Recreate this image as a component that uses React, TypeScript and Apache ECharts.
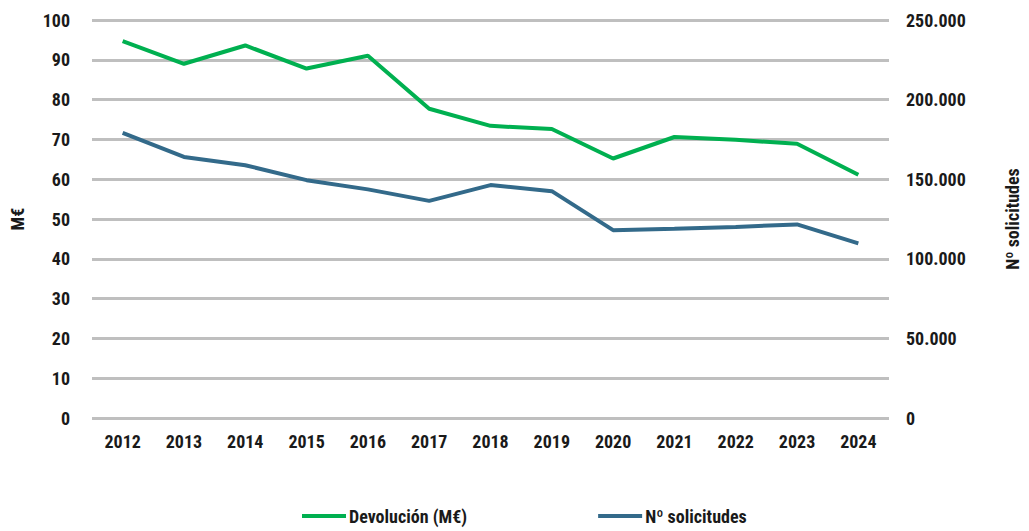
import React, { useEffect, useRef } from "react";
import * as echarts from "echarts";

const years = ["2012","2013","2014","2015","2016","2017","2018","2019","2020","2021","2022","2023","2024"];
const devolucion = [94.7, 89.0, 93.6, 87.8, 91.0, 77.7, 73.4, 72.6, 65.2, 70.6, 69.9, 68.9, 61.1];
const solicitudes = [179100, 164000, 158800, 149400, 143600, 136400, 146300, 142500, 118000, 118800, 120000, 121600, 109700];

const FONT = "'Roboto Condensed', 'Liberation Sans Narrow', 'Arial Narrow', 'DejaVu Sans Condensed', Roboto, sans-serif";
const GREEN = "#00b050";
const BLUE = "#336a8a";
const GRID = "#bfbfbf";

const fmt = (v: number) => {
  if (v === 0) return "0";
  return String(v).replace(/\B(?=(\d{3})+(?!\d))/g, ".");
};

export default function App() {
  const ref = useRef<HTMLDivElement>(null);
  useEffect(() => {
    if (!ref.current) return;
    const chart = echarts.init(ref.current, null, { renderer: "svg" });
    const labelStyle = { fontFamily: FONT, fontWeight: "bold" as const, fontSize: 18, color: "#1a1a1a" };
    chart.setOption({
      animation: false,
      textStyle: { fontFamily: FONT },
      grid: { left: 88, right: 135, top: 20, bottom: 113, containLabel: false },
      legend: {
        left: 302,
        top: 507,
        padding: 0,
        itemGap: 131,
        itemWidth: 44,
        itemHeight: 4,
        textStyle: { ...labelStyle, fontSize: 18, padding: [0, 0, 0, -2] },
        data: [
          { name: "Devolución (M€)", icon: "rect" },
          { name: "Nº solicitudes", icon: "rect" },
        ],
      },
      xAxis: {
        type: "category",
        data: years,
        boundaryGap: true,
        axisLine: { show: false },
        axisTick: { show: false },
        axisLabel: { ...labelStyle, margin: 14 },
      },
      yAxis: [
        {
          type: "value",
          min: 0,
          max: 100,
          interval: 10,
          name: "M€",
          nameLocation: "middle",
          nameGap: 66,
          nameRotate: 90,
          nameTextStyle: labelStyle,
          axisLine: { show: false },
          axisTick: { show: false },
          axisLabel: { ...labelStyle, margin: 22 },
          splitLine: { lineStyle: { color: GRID, width: 3 } },
        },
        {
          type: "value",
          min: 0,
          max: 250000,
          interval: 50000,
          name: "Nº solicitudes",
          nameLocation: "middle",
          nameGap: 114,
          nameRotate: 90,
          nameTextStyle: labelStyle,
          axisLine: { show: false },
          axisTick: { show: false },
          axisLabel: { ...labelStyle, margin: 17, formatter: (v: number) => fmt(v) },
          splitLine: { show: false },
        },
      ],
      series: [
        {
          name: "Devolución (M€)",
          type: "line",
          yAxisIndex: 0,
          data: devolucion,
          symbol: "none",
          lineStyle: { color: GREEN, width: 4 },
          itemStyle: { color: GREEN },
        },
        {
          name: "Nº solicitudes",
          type: "line",
          yAxisIndex: 1,
          data: solicitudes,
          symbol: "none",
          lineStyle: { color: BLUE, width: 4 },
          itemStyle: { color: BLUE },
        },
      ],
    });
    return () => chart.dispose();
  }, []);
  return <div ref={ref} style={{ width: 1029, height: 531, position: "absolute", left: 0, top: 0 }} />;
}
